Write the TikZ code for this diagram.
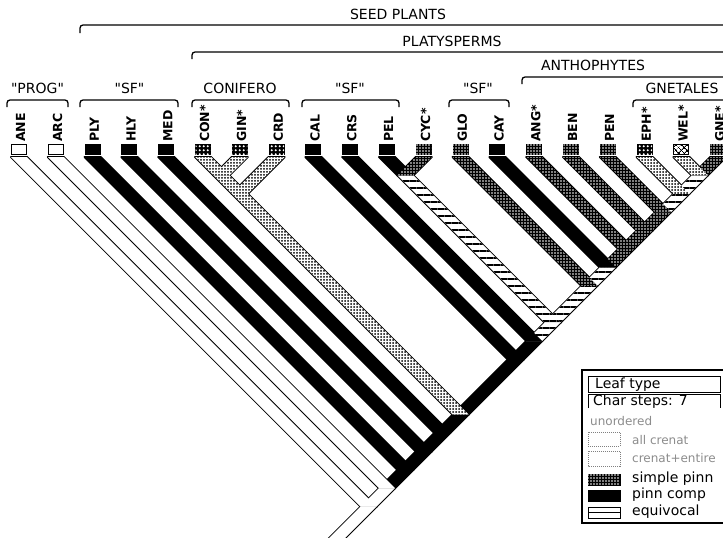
\documentclass[tikz,border=0pt]{standalone}
\usepackage{fontspec}
\setmainfont{DejaVu Sans}
\newfontfamily\headfont{DejaVu Sans}[Ligatures=TeXOff]
\usetikzlibrary{patterns.meta}
\newcommand\mkclade[3]{\coordinate (#1) at ({19+36.8*(#2+#3)/2},{157+36.8*(#3-#2)/2});}
\newif\ifoutlinepass
\newcommand\band[3]{%
  \ifoutlinepass
    \draw[bandline] ([xshift=-8pt]#2) -- ([xshift=8pt]#2) -- ([xshift=8pt]#3) -- ([xshift=-8pt]#3) -- cycle;
  \else
    \fill[#1] ([xshift=-8pt]#2) -- ([xshift=8pt]#2) -- ([xshift=8pt]#3) -- ([xshift=-8pt]#3) -- cycle;
  \fi}
\newcommand\treebands{%
  % spine, root to GNE
  \band{wb}{RS}{R0}
  \band{wb}{R0}{N1}
  \band{kb}{N1}{N2}
  \band{kb}{N2}{N3}
  \band{kb}{N3}{N4}
  \band{kb}{N4}{N5}
  \band{kb}{N5}{N6}
  \band{kb}{N6}{N7}
  \band{hb}{N7}{N8}
  \band{hb}{N8}{N9}
  \band{hb}{N9}{N10}
  \band{db}{N10}{N11}
  \band{db}{N11}{N12}
  \band{db}{N12}{N13}
  \band{hb}{N13}{G}
  \band{hb}{G}{W}
  \band{db}{W}{tGNE}
  % side branches
  \band{wb}{tANE}{R0}
  \band{wb}{tARC}{N1}
  \band{kb}{tPLY}{N2}
  \band{kb}{tHLY}{N3}
  \band{kb}{tMED}{N4}
  \band{lb}{C2}{N5}
  \band{lb}{C1}{C2}
  \band{lb}{tCRD}{C2}
  \band{lb}{tCON}{C1}
  \band{lb}{tGIN}{C1}
  \band{kb}{tCAL}{N6}
  \band{kb}{tCRS}{N7}
  \band{hb}{P}{N8}
  \band{kb}{tPEL}{P}
  \band{db}{tCYC}{P}
  \band{db}{tGLO}{N9}
  \band{kb}{tCAY}{N10}
  \band{db}{tANG}{N11}
  \band{db}{tBEN}{N12}
  \band{db}{tPEN}{N13}
  \band{lb}{tEPH}{G}
  \band{lb}{tWEL}{W}
}
\tikzset{
  bandline/.style={line width=2pt, line join=round},
  wb/.style={fill=white},
  kb/.style={fill=black},
  hb/.style={fill=white, postaction={pattern={Lines[distance=7pt,line width=2.2pt]}, pattern color=black}},
  db/.style={fill=black, postaction={pattern={Dots[distance=3pt,radius=0.85pt]}, pattern color=white}},
  lb/.style={fill=white, postaction={pattern={Dots[distance=3pt,radius=1pt]}, pattern color=black}},
  leafbox/.style={draw, line width=1pt, minimum width=15pt, minimum height=10pt, inner sep=0pt},
  wbox/.style={leafbox, fill=white},
  kbox/.style={leafbox, fill=black},
  dbox/.style={leafbox, fill=black, postaction={pattern={Dots[distance=3pt,radius=0.85pt]}, pattern color=white}},
  pbox/.style={leafbox, fill=black, postaction={pattern={Dots[distance=4pt,radius=1.3pt]}, pattern color=white}},
  xbox/.style={leafbox, fill=white, postaction={pattern={Hatch[distance=4pt,angle=45,line width=1pt]}, pattern color=black}},
  leafstate/.style={#1},
  lbl/.style={font=\bfseries\fontsize{12.5}{13}\selectfont, rotate=90, anchor=mid west, inner sep=0pt},
  head/.style={font=\headfont\fontsize{14}{16}\selectfont, inner sep=0pt},
  brk/.style={line width=1.3pt, rounded corners=3pt},
  legt/.style={font=\fontsize{14}{16}\selectfont, inner sep=0pt, anchor=west},
  legfaint/.style={legt, font=\fontsize{12}{14}\selectfont, text=black!45},
  swatch/.style={draw, line width=1pt},
}
\begin{document}
\begin{tikzpicture}[x=1pt,y=-1pt]
\useasboundingbox (0,0) rectangle (723,538);
\clip (0,0) rectangle (723,538);

% leaves
\foreach \n/\s/\t [count=\i from 0] in {ANE/wbox/ANE, ARC/wbox/ARC, PLY/kbox/PLY, HLY/kbox/HLY, MED/kbox/MED,
    CON/pbox/CON*, GIN/pbox/GIN*, CRD/pbox/CRD, CAL/kbox/CAL, CRS/kbox/CRS, PEL/kbox/PEL,
    CYC/dbox/CYC*, GLO/dbox/GLO, CAY/kbox/CAY, ANG/dbox/ANG*, BEN/dbox/BEN, PEN/dbox/PEN,
    EPH/pbox/EPH*, WEL/xbox/WEL*, GNE/dbox/GNE*}{
  \node[leafstate/.expand once=\s] (b\n) at ({19+36.8*\i},149.5) {};
  \node[lbl] (l\n) at ({22.5+36.8*\i},142) {\t};
  \coordinate (t\n) at ({19+36.8*\i},157);
}

% internal nodes
\mkclade{R0}{0}{19}
\mkclade{N1}{1}{19}
\mkclade{N2}{2}{19}
\mkclade{N3}{3}{19}
\mkclade{N4}{4}{19}
\mkclade{N5}{5}{19}
\mkclade{N6}{8}{19}
\mkclade{N7}{9}{19}
\mkclade{N8}{10}{19}
\mkclade{N9}{12}{19}
\mkclade{N10}{13}{19}
\mkclade{N11}{14}{19}
\mkclade{N12}{15}{19}
\mkclade{N13}{16}{19}
\mkclade{G}{17}{19}
\mkclade{W}{18}{19}
\mkclade{C1}{5}{6}
\mkclade{C2}{5}{7}
\mkclade{P}{10}{11}
\coordinate (RS) at ([shift={(-45,45)}]R0);

% tree: outlines first, then fills
\outlinepasstrue \treebands
\outlinepassfalse \treebands

% group brackets
\node[head] (hSEED) at (398,14) {SEED PLANTS};
\draw[brk] (80,33) -- (80,25) -- (745,25);
\node[head] (hPLAT) at (452,41) {PLATYSPERMS};
\draw[brk] (192,59) -- (192,52) -- (745,52);
\node[head] (hANTH) at (593,65) {ANTHOPHYTES};
\draw[brk] (522,84) -- (522,77) -- (745,77);
\node[head] (hPROG) at (37.5,88) {"PROG"};
\draw[brk] (7,107) -- (7,100) -- (68,100) -- (68,107);
\node[head] (hSF1) at (129.5,88) {"SF"};
\draw[brk] (80,107) -- (80,100) -- (178,100) -- (178,107);
\node[head] (hCONI) at (240,88) {CONIFERO};
\draw[brk] (192,107) -- (192,100) -- (289,100) -- (289,107);
\node[head] (hSF2) at (350,88) {"SF"};
\draw[brk] (302,107) -- (302,100) -- (399,100) -- (399,107);
\node[head] (hSF3) at (478,88) {"SF"};
\draw[brk] (449,107) -- (449,100) -- (509,100) -- (509,107);
\node[head] (hGNET) at (682,88) {GNETALES};
\draw[brk] (633,107) -- (633,100) -- (745,100);

% legend
\draw[line width=1.2pt, fill=white] (582,370) rectangle (745,523);
\draw[line width=1pt] (588,376) rectangle (720,392);
\node[legt] (kTitle) at (595,384.5) {Leaf type};
\draw[line width=1pt] (588,408) -- (588,394) -- (720,394) -- (720,408);
\node[legt] (kSteps) at (593,402) {Char steps: 7};
\node[legfaint] (kUnord) at (590,421) {unordered};
\draw[swatch, densely dotted, black!50] (588,432) rectangle (620,446);
\node[legfaint] (kAllc) at (632,440) {all crenat};
\draw[swatch, densely dotted, black!50] (588,451) rectangle (620,466);
\node[legfaint] (kCren) at (632,458) {crenat+entire};
\path[swatch, db] (588,474) rectangle (620,485);
\node[legt] (kSimple) at (632,479) {simple pinn};
\path[swatch, kb] (588,490) rectangle (620,501);
\node[legt] (kComp) at (632,495) {pinn comp};
\draw[swatch, fill=white] (588,507) rectangle (620,518);
\draw[line width=1pt] (588,512.5) -- (620,512.5);
\node[legt] (kEquiv) at (632,512) {equivocal};
\end{tikzpicture}
\end{document}
